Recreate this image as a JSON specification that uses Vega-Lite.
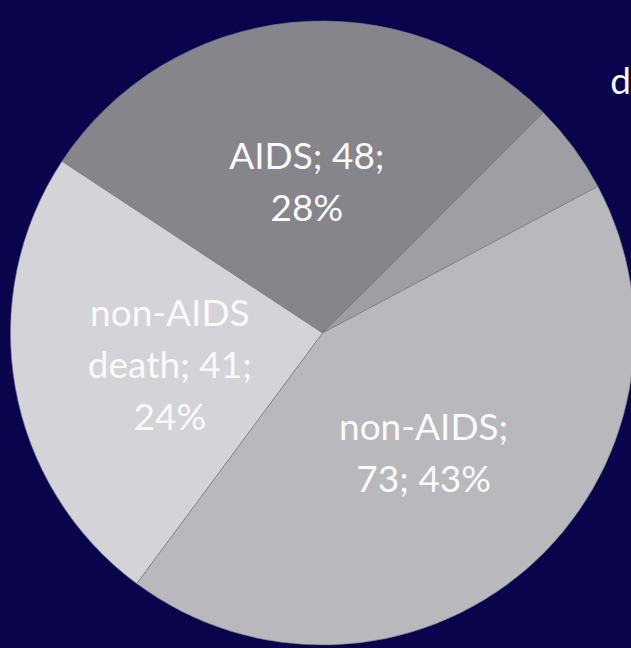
{
  "$schema": "https://vega.github.io/schema/vega-lite/v6.json",
  "width": 617,
  "height": 630,
  "autosize": {"type": "none"},
  "padding": {"left": 14, "right": 0, "top": 18, "bottom": 0},
  "background": "#0a044c",
  "view": {"stroke": null},
  "data": {
    "values": [
      {"cat": "AIDS", "n": 48, "label": ["AIDS; 48;", "28%"], "lines": 2, "out": ""},
      {"cat": "death", "n": 8, "label": "", "lines": 0, "out": "death; 8; 5%"},
      {"cat": "non-AIDS", "n": 73, "label": ["non-AIDS;", "73; 43%"], "lines": 2, "out": ""},
      {"cat": "non-AIDS death", "n": 41, "label": ["non-AIDS", "death; 41;", "24%"], "lines": 3, "out": ""}
    ]
  },
  "encoding": {
    "theta": {"field": "n", "type": "quantitative", "stack": true, "scale": {"range": [-0.988, 5.295]}},
    "order": {"field": "idx", "type": "quantitative"}
  },
  "transform": [
    {"window": [{"op": "row_number", "as": "idx"}]}
  ],
  "layer": [
    {
      "mark": {"type": "arc", "outerRadius": 312, "stroke": "#7d7c86", "strokeWidth": 0.6},
      "encoding": {
        "color": {
          "field": "cat", "type": "nominal", "legend": null,
          "scale": {"domain": ["AIDS", "death", "non-AIDS", "non-AIDS death"], "range": ["#86858b", "#9e9fa4", "#b9b8bd", "#d4d3d8"]}
        }
      }
    },
    {
      "mark": {"type": "text", "radius": 155, "dy": -21, "font": "Lato", "fontSize": 37, "lineHeight": 52, "color": "#fafafa", "align": "center", "baseline": "middle"},
      "encoding": {"text": {"condition": {"test": "datum.lines === 2", "field": "label"}, "value": ""}}
    },
    {
      "mark": {"type": "text", "radius": 155, "dy": -45, "font": "Lato", "fontSize": 37, "lineHeight": 52, "color": "#fafafa", "align": "center", "baseline": "middle"},
      "encoding": {"text": {"condition": {"test": "datum.lines === 3", "field": "label"}, "value": ""}}
    },
    {
      "mark": {"type": "text", "radius": 381, "thetaOffset": -0.078, "font": "Lato", "fontSize": 37, "color": "#fafafa", "align": "left", "baseline": "middle"},
      "encoding": {"text": {"field": "out"}}
    }
  ]
}
